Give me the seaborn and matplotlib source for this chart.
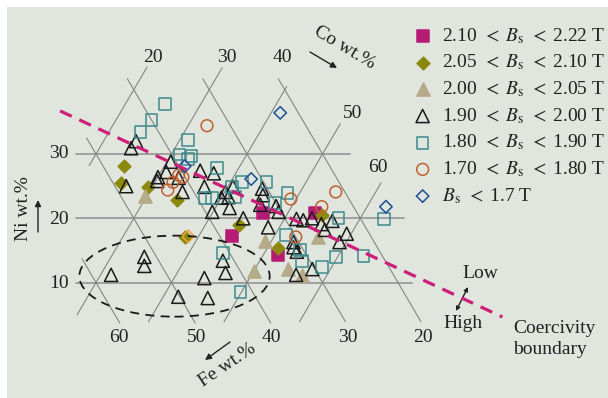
import pandas as pd
import matplotlib
matplotlib.use('Agg')
import matplotlib.pyplot as plt
import seaborn as sns
from matplotlib.patches import Ellipse, Rectangle


# Style
sns.set_style("white")
plt.rcParams['font.family'] = ['Liberation Serif', 'DejaVu Serif']
plt.rcParams['mathtext.fontset'] = 'stix'

W, H = 608, 398

# Compositions (Co wt.%, Ni wt.%), Fe = balance
sq_co = [44.4, 46.7, 52.0, 53.6]                       # 2.10 < Bs < 2.22 T
sq_ni = [17.2, 20.8, 14.3, 20.8]

dia_co = [24.7, 25.5, 29.4, 34.3, 38.3, 44.4, 51.4, 54.7]   # 2.05 < Bs < 2.10 T
dia_ni = [28.1, 25.5, 24.9, 22.8, 17.1, 19.0, 15.4, 20.5]

tan_co = [29.8, 49.1, 50.0, 54.4, 56.7, 55.9]          # 2.00 < Bs < 2.05 T
tan_ni = [23.5, 16.5, 11.8, 12.1, 11.2, 17.1]

tri_co = [24.3, 24.2, 30.5, 30.7, 30.0, 30.2, 26.5, 32.8, 34.4, 35.1,
          37.1, 36.9, 40.1, 40.0, 40.9, 41.9, 39.9, 44.5, 40.7, 44.7,
          45.3, 45.7, 47.9, 48.7, 48.5, 51.6, 52.6, 53.6, 55.3, 56.2,
          56.5, 59.4, 59.1, 53.0, 53.4, 54.2, 55.9, 57.6, 45.1, 46.4,
          44.0, 42.0, 46.0, 34.4, 35.1, 31.4]              # 1.90 < Bs < 2.00 T
tri_ni = [32.0, 30.9, 28.8, 27.2, 26.4, 25.8, 25.0, 26.3, 24.1, 27.4,
          27.0, 24.9, 24.1, 23.2, 23.3, 21.6, 21.0, 20.0, 24.9, 24.6,
          23.6, 22.1, 21.9, 21.0, 18.6, 19.9, 19.7, 20.0, 19.1, 18.2,
          19.6, 17.6, 16.3, 16.3, 15.5, 14.8, 11.2, 12.1, 13.4, 11.5,
          10.7, 7.8, 7.6, 14.0, 12.6, 11.2]

osq_co = [25.2, 24.7, 24.2, 31.1, 31.1, 32.8, 32.6, 37.1, 40.6, 41.5,
          44.8, 37.8, 38.8, 41.8, 48.4, 47.5, 51.5, 44.5, 49.9, 54.5,
          55.6, 58.7, 59.8, 63.4, 57.1, 63.2]               # 1.80 < Bs < 1.90 T
osq_ni = [37.8, 35.3, 33.4, 32.2, 29.9, 29.7, 29.2, 27.8, 24.9, 25.6,
          25.6, 23.2, 23.2, 23.3, 23.9, 22.4, 17.4, 14.6, 8.5, 15.1,
          13.4, 12.4, 14.0, 14.1, 20.0, 19.9]

circ_co = [32.5, 32.6, 33.3, 32.4, 32.3, 49.3, 54.7, 54.0, 52.9]  # 1.70 < Bs < 1.80 T
circ_ni = [34.4, 26.7, 26.4, 25.6, 24.4, 23.0, 24.1, 21.8, 17.1]

odia_co = [41.2, 32.7, 42.5, 62.5]                     # Bs < 1.7 T
odia_ni = [36.4, 28.1, 26.1, 21.8]

orange_co = [38.6]
orange_ni = [17.2]

# coercivity boundary end points
bound_co = [11.9, 86.5]
bound_ni = [36.7, 4.65]

# grid segments of the ternary diagram
co_lines = {20: (28.2, 43.5), 30: (5.0, 43.4), 40: (3.9, 40.5), 50: (3.9, 34.7), 60: (3.9, 25.5)}
fe_lines = {60: (3.7, 13.7), 50: (3.7, 32.5), 40: (3.7, 41.7), 30: (3.9, 41.7), 20: (3.9, 41.7)}
ni_lines = {30: (17.35, 53.6), 20: (22.35, 65.8), 10: (27.35, 71.9)}

LT = r'\;\,<\;'
BS = r'B_\mathrm{s}'
groups = [
    (sq_co, sq_ni, f'2.10${LT}{BS}{LT}$2.22 T', 's', 64, '#b71c74', '#b71c74'),
    (dia_co, dia_ni, f'2.05${LT}{BS}{LT}$2.10 T', 'D', 42, '#8c8a0e', '#8c8a0e'),
    (tan_co, tan_ni, f'2.00${LT}{BS}{LT}$2.05 T', '^', 90, '#b5ab88', '#b5ab88'),
    (tri_co, tri_ni, f'1.90${LT}{BS}{LT}$2.00 T', '^', 90, 'none', '#1a1a1a'),
    (osq_co, osq_ni, f'1.80${LT}{BS}{LT}$1.90 T', 's', 70, 'none', '#3d8a8c'),
    (circ_co, circ_ni, f'1.70${LT}{BS}{LT}$1.80 T', 'o', 72, 'none', '#c0602f'),
    (odia_co, odia_ni, f'${BS}{LT}$1.7 T', 'D', 40, 'none', '#1d4f96'),
]


def tern(co, ni):
    # Ni vertical, Co to the right, Fe the balance
    co = pd.Series(co, dtype=float)
    ni = pd.Series(ni, dtype=float)
    return co + ni / 2, ni


fig = plt.figure(figsize=(W / 100, H / 100), dpi=100)
fig.patch.set_facecolor('white')
fig.add_artist(Rectangle((7 / W, 0), 1, 1 - 7 / H, transform=fig.transFigure,
                         facecolor='#e0e5dd', edgecolor='none', zorder=0))

ax = fig.add_axes([0, 0, 1, 1])
ax.set_xlim(22.285, 102.81)
ax.set_ylim(-7.95, 53.95)
ax.axis('off')
ax.patch.set_alpha(0)

# grid
for n, (c0, c1) in ni_lines.items():
    x, y = tern([c0, c1], [n, n])
    ax.plot(x, y, color='#9a9a9a', lw=1.3, zorder=1)
for c, (n0, n1) in co_lines.items():
    x, y = tern([c, c], [n0, n1])
    ax.plot(x, y, color='#858585', lw=0.8, zorder=1)
for f, (n0, n1) in fe_lines.items():
    x, y = tern([100 - f - n0, 100 - f - n1], [n0, n1])
    ax.plot(x, y, color='#858585', lw=0.8, zorder=1)

# data points
for co, ni, lab, marker, size, fc, ec in groups:
    x, y = tern(co, ni)
    df = pd.DataFrame({'x': x, 'y': y})
    sns.scatterplot(data=df, x='x', y='y', ax=ax, marker=marker, s=size,
                    facecolor=fc, edgecolor=ec, linewidth=1.1, label=lab, zorder=3)

x, y = tern(orange_co, orange_ni)
sns.scatterplot(x=x, y=y, ax=ax, marker='D', s=40, facecolor='none',
                edgecolor='#f0a23c', linewidth=1.1, zorder=3)

# coercivity boundary
x, y = tern(bound_co, bound_ni)
ax.plot(x, y, color='#cc1f7a', lw=2.3, linestyle=(0, (4, 2.6)), zorder=4)

# low-coercivity region
ex, ey = tern([39.9], [11.0])
ax.add_patch(Ellipse((ex[0], ey[0]), 25.2, 12.6, facecolor='none', edgecolor='#1a1a1a',
                     lw=1.3, linestyle=(0, (5, 3.5)), zorder=4))

ax.set_xlabel('')
ax.set_ylabel('')

leg = ax.legend(loc='upper left', bbox_to_anchor=(410 / W, 1 - 26 / H),
                bbox_transform=fig.transFigure, frameon=False, fontsize=14,
                handletextpad=0.35, handlelength=1.3, labelspacing=0.36,
                borderaxespad=0, borderpad=0)
for t in leg.get_texts():
    t.set_color('#222222')


def label(s, x, y, **kw):
    ax.annotate(s, xy=(x, H - y), xycoords='figure pixels', ha='center', va='center',
                fontsize=14, color='#222222', **kw)


def arrow(x0, y0, x1, y1, style='-|>', ms=9):
    ax.annotate('', xy=(x1, H - y1), xytext=(x0, H - y0), xycoords='figure pixels',
                arrowprops=dict(arrowstyle=style, color='#222222', lw=1.0,
                                mutation_scale=ms, shrinkA=0, shrinkB=0))


# Ni ticks
for t, yy in [('30', 154), ('20', 219), ('10', 283)]:
    ax.annotate(t, xy=(69, H - yy), xycoords='figure pixels', ha='right', va='center',
                fontsize=14, color='#222222')

# Co ticks
for t, xx, yy in [('20', 153, 57), ('30', 227, 57), ('40', 282, 57), ('50', 353, 114), ('60', 378, 168)]:
    label(t, xx, yy)

# Fe ticks
for t, xx in [('60', 119), ('50', 197), ('40', 271), ('30', 348), ('20', 423)]:
    label(t, xx, 337)

label('Co wt.%', 345, 48, rotation=-31)
arrow(310, 52, 337, 68)
label('Ni wt.%', 23, 209, rotation=90)
arrow(38, 232, 38, 200)
label('Fe wt.%', 227, 365, rotation=34)
arrow(230, 342, 205, 360)

label('Low', 480, 273)
label('High', 463, 323)
arrow(468, 287, 456, 311, style='<|-|>', ms=6)
ax.annotate('Coercivity\nboundary', xy=(513, H - 339), xycoords='figure pixels',
            ha='left', va='center', fontsize=14, color='#222222', linespacing=1.3)

plt.savefig('out.png', dpi=100)
